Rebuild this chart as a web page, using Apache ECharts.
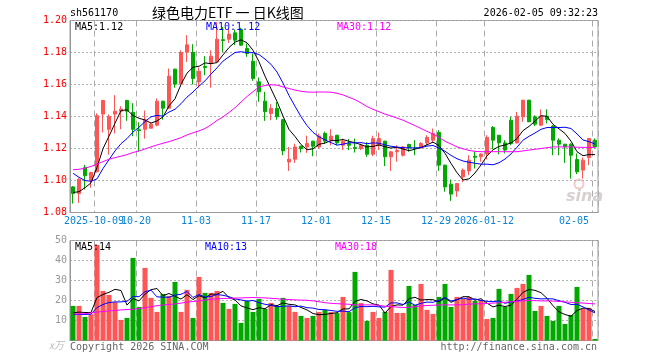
<!DOCTYPE html>
<html><head><meta charset="utf-8">
<script src="https://cdn.jsdelivr.net/npm/echarts@6/dist/echarts.min.js"></script>
<style>html,body{margin:0;padding:0;background:#fff}#c{width:660px;height:360px}</style>
</head><body><div id="c"></div>
<script>
const dates = ['2025-09-25','2025-09-26','2025-09-29','2025-09-30','2025-10-09','2025-10-10','2025-10-13','2025-10-14','2025-10-15','2025-10-16','2025-10-17','2025-10-20','2025-10-21','2025-10-22','2025-10-23','2025-10-24','2025-10-27','2025-10-28','2025-10-29','2025-10-30','2025-10-31','2025-11-03','2025-11-04','2025-11-05','2025-11-06','2025-11-07','2025-11-10','2025-11-11','2025-11-12','2025-11-13','2025-11-14','2025-11-17','2025-11-18','2025-11-19','2025-11-20','2025-11-21','2025-11-24','2025-11-25','2025-11-26','2025-11-27','2025-11-28','2025-12-01','2025-12-02','2025-12-03','2025-12-04','2025-12-05','2025-12-08','2025-12-09','2025-12-10','2025-12-11','2025-12-12','2025-12-15','2025-12-16','2025-12-17','2025-12-18','2025-12-19','2025-12-22','2025-12-23','2025-12-24','2025-12-25','2025-12-26','2025-12-29','2025-12-30','2025-12-31','2026-01-05','2026-01-06','2026-01-07','2026-01-08','2026-01-09','2026-01-12','2026-01-13','2026-01-14','2026-01-15','2026-01-16','2026-01-19','2026-01-20','2026-01-21','2026-01-22','2026-01-23','2026-01-26','2026-01-27','2026-01-28','2026-01-29','2026-01-30','2026-02-02','2026-02-03','2026-02-04','2026-02-05'];

const labelDates = ['2025-10-09','2025-10-20','2025-11-03','2025-11-17','2025-12-01','2025-12-15','2025-12-29','2026-01-12','2026-02-05'];
const labelTexts = ['2025-10-09','10-20','11-03','11-17','12-01','12-15','12-29','2026-01-12','02-05'];
const priceTicks = [1.08, 1.20, 0.02];
const volTicks = [0, 50, 10];

const opens = [1.096,1.0919,1.108,1.100,1.1055,1.1415,1.132,1.1415,1.1433,1.150,
1.1426,1.1317,1.132,1.1327,1.1346,1.1496,1.1452,1.1696,1.1606,1.1802,
1.180,1.1616,1.1714,1.1731,1.1741,1.188,1.1883,1.1923,1.1944,1.1825,
1.1746,1.1617,1.1496,1.1419,1.145,1.138,1.1116,1.1133,1.1214,1.121,
1.1246,1.121,1.1294,1.1252,1.1283,1.122,1.1231,1.1207,1.12,1.122,
1.1164,1.122,1.1246,1.1148,1.118,1.1158,1.1225,1.1202,1.1204,1.1235,
1.1252,1.13,1.1096,1.0977,1.0935,1.1023,1.106,1.1152,1.1148,1.1165,
1.1331,1.1283,1.1235,1.1377,1.1235,1.1398,1.1502,1.1398,1.1346,1.1402,
1.134,1.1252,1.1227,1.1227,1.1131,1.1065,1.1144,1.1252];
const closes = [1.0919,1.1008,1.103,1.105,1.1405,1.150,1.140,1.1433,1.1446,1.1433,
1.132,1.1312,1.138,1.1352,1.1496,1.1452,1.1652,1.1602,1.180,1.1848,
1.1638,1.1683,1.1706,1.1777,1.1883,1.1875,1.1915,1.1877,1.1846,1.1794,
1.1638,1.1554,1.143,1.145,1.1398,1.1185,1.1133,1.121,1.12,1.1231,
1.1214,1.1277,1.1246,1.1277,1.1235,1.1246,1.122,1.12,1.122,1.1164,
1.1262,1.1262,1.1148,1.1179,1.1188,1.121,1.1205,1.12,1.1231,1.1269,
1.1294,1.1096,1.096,1.0915,1.0981,1.1065,1.1127,1.1145,1.1165,1.1269,
1.1252,1.1235,1.119,1.1231,1.1402,1.1502,1.1367,1.1352,1.1402,1.1381,
1.1252,1.1227,1.121,1.1158,1.1054,1.1127,1.1263,1.121];
const lows = [1.0856,1.086,1.0944,1.0955,1.105,1.130,1.1162,1.1294,1.132,1.1373,
1.1277,1.118,1.1262,1.1325,1.1339,1.138,1.1446,1.158,1.160,1.1741,
1.160,1.158,1.1658,1.158,1.174,1.1804,1.186,1.1846,1.184,1.1773,
1.1623,1.1492,1.1373,1.1377,1.138,1.1158,1.106,1.111,1.1175,1.1173,
1.1152,1.12,1.123,1.122,1.122,1.119,1.119,1.1175,1.119,1.1148,
1.1152,1.119,1.109,1.106,1.1117,1.115,1.118,1.1158,1.12,1.1221,
1.1235,1.106,1.093,1.0873,1.0898,1.099,1.1033,1.1075,1.1117,1.1131,
1.1194,1.1163,1.117,1.122,1.1233,1.1367,1.1365,1.134,1.134,1.1356,
1.1158,1.1158,1.111,1.1012,1.104,1.1012,1.1096,1.12];
const highs = [1.0966,1.1015,1.1098,1.1055,1.142,1.1505,1.1413,1.1533,1.1464,1.1505,
1.1483,1.1364,1.1437,1.1365,1.1513,1.1498,1.170,1.1698,1.1814,1.1908,
1.1852,1.1706,1.1777,1.1814,1.199,1.196,1.195,1.1944,1.1955,1.1856,
1.1794,1.1644,1.1554,1.1477,1.149,1.1385,1.121,1.123,1.1218,1.128,
1.1248,1.1294,1.1305,1.132,1.1285,1.1262,1.126,1.1262,1.123,1.124,
1.128,1.130,1.1248,1.1185,1.122,1.1215,1.123,1.1252,1.124,1.1283,
1.1325,1.1315,1.1098,1.1006,1.0985,1.1075,1.1158,1.118,1.117,1.1283,
1.134,1.1285,1.1252,1.1398,1.1429,1.1504,1.1504,1.1408,1.1444,1.1444,
1.1346,1.1263,1.1228,1.1233,1.1169,1.1144,1.1265,1.1263];

const ma5 = [1.0925,1.093,1.0955,1.0985,1.1082,1.1199,1.1277,1.1358,1.1437,1.1442,
1.1406,1.1389,1.1378,1.1359,1.1372,1.1398,1.1466,1.1511,1.16,1.1671,
1.1708,1.1714,1.1735,1.173,1.1737,1.1785,1.1831,1.1865,1.1879,1.1861,
1.1814,1.1742,1.1652,1.1573,1.1494,1.1403,1.1319,1.1275,1.1225,1.1192,
1.1198,1.1226,1.1234,1.1249,1.125,1.1256,1.1245,1.1236,1.1224,1.121,
1.1213,1.1222,1.1211,1.1203,1.1208,1.1197,1.1186,1.1196,1.1207,1.1223,
1.124,1.1218,1.117,1.1107,1.1049,1.1003,1.101,1.1047,1.1097,1.1154,
1.1192,1.1213,1.1222,1.1235,1.1262,1.1312,1.1338,1.1371,1.1405,1.1401,
1.1351,1.1323,1.1294,1.1246,1.118,1.1155,1.1162,1.1162];
const ma10 = [1.1045,1.102,1.1,1.0995,1.101,1.1075,1.113,1.1185,1.123,1.1262,
1.1303,1.1333,1.1368,1.1398,1.1407,1.1402,1.1428,1.1445,1.148,1.1521,
1.1553,1.159,1.1623,1.1665,1.1704,1.1746,1.1773,1.18,1.1805,1.1799,
1.1799,1.1787,1.1759,1.1726,1.1678,1.1609,1.1531,1.1464,1.1399,1.1343,
1.1301,1.1273,1.1254,1.1237,1.1221,1.1227,1.1236,1.1235,1.1237,1.123,
1.1235,1.1233,1.1223,1.1214,1.1209,1.1205,1.1204,1.1204,1.1205,1.1215,
1.1219,1.1202,1.1183,1.1157,1.1136,1.1122,1.1114,1.1108,1.1102,1.1102,
1.1098,1.1111,1.1134,1.1166,1.1208,1.1252,1.1276,1.1297,1.132,1.1331,
1.1331,1.1331,1.1333,1.1325,1.1291,1.1253,1.1243,1.1228];
const ma30 = [1.1067,1.107,1.1077,1.1088,1.1103,1.1118,1.1133,1.1143,1.1152,1.1162,
1.1175,1.1185,1.1197,1.121,1.1222,1.1233,1.1243,1.1255,1.1268,1.1285,
1.1298,1.131,1.1325,1.1348,1.1375,1.1398,1.1425,1.1455,1.149,1.1525,
1.1555,1.1585,1.1594,1.1598,1.1596,1.1585,1.1575,1.1565,1.1558,1.1553,
1.1552,1.1553,1.1553,1.1552,1.1545,1.1535,1.152,1.1505,1.1485,1.1462,
1.1445,1.143,1.1415,1.1403,1.139,1.1377,1.136,1.1343,1.1325,1.1307,
1.129,1.127,1.1245,1.1228,1.121,1.1198,1.1188,1.1182,1.118,1.118,
1.118,1.118,1.118,1.118,1.118,1.1185,1.119,1.1195,1.12,1.1205,
1.121,1.121,1.121,1.121,1.1208,1.1207,1.1207,1.1207];

const volumes = [17.3,17.3,11.8,13.2,47.8,24.8,22.8,19.2,10.3,11.3,
41.3,16.8,36.3,21.3,14.3,23.3,22.3,29.3,14.3,25.3,
11.3,31.8,23.8,23.8,24.8,18.8,15.8,18.3,8.8,19.8,
14.3,20.8,15.8,18.8,17.3,21.3,17.3,14.3,12.3,11.3,
12.3,14.3,15.2,14.2,13.7,21.8,14.2,34.3,18.7,9.8,
14.3,11.3,14.3,35.3,13.8,13.8,27.3,17.8,28.3,15.3,
13.3,21.8,28.3,16.8,21.8,20.8,21.8,19.8,20.3,10.8,
11.3,25.8,16.8,23.3,26.3,28.3,32.8,14.8,17.3,12.3,
9.8,17.3,8.3,12.8,26.8,15.8,16.3,0.8];
const vma5 = [13.8,14.2,14,14,21.5,23,24.1,25.6,25,17.7,
21,19.8,23.2,25.4,26,22.4,23.5,22.1,20.7,22.9,
20.5,22.4,21.3,23.2,23.1,24.6,21.4,20.3,17.3,16.3,
15.4,16.4,15.9,17.9,17.4,18.8,18.1,17.8,16.5,15.3,
13.5,12.9,13.1,13.5,13.9,15.8,15.8,19.6,20.5,19.8,
18.3,17.7,13.7,17,17.8,17.7,20.9,21.6,20.2,20.5,
20.4,19.3,21.4,19.1,20.4,21.9,21.9,20.2,20.9,18.7,
16.8,17.6,17,17.6,20.7,24.1,25.5,25.1,23.9,21.1,
17.4,14.3,13,12.1,15,16.2,16,14.5];
const vma10 = [13,13,13,13.2,16.5,18,19,19.3,19.3,19.6,
22,21.9,24.4,25.2,21.8,21.7,21.6,22.7,23.1,24.5,
21.5,23,21.7,22,23,22.6,21.9,20.8,20.3,19.7,
20,18.9,18.1,17.6,16.9,17.1,17.3,16.9,17.2,16.4,
16.2,15.5,15.4,15,14.6,14.7,14.4,16.4,17,16.9,
17.1,16.8,16.7,18.8,18.8,18,19.3,17.6,18.6,19.2,
19.1,20.1,21.5,19.7,20.5,21.2,20.6,20.8,20,19.6,
19.4,19.8,18.6,19.3,19.7,20.5,21.6,21.1,20.8,20.9,
20.8,19.9,19.1,18,18.1,16.8,15.2,13.8];
const vma30 = [13.2,13.3,13.4,13.8,14.2,14.5,14.8,15,15.3,15.5,
15.6,16,16.4,16.9,17.4,17.8,18,18.3,18.7,19.2,
19.5,19.8,20.2,20.6,20.8,21,21.1,21.2,21.3,21.4,
21.5,21.4,21.3,21.1,20.9,20.6,20.5,20.3,20.2,20.1,
19.8,19.4,18.9,18.6,18.4,18.3,18.1,17.8,17.8,17.8,
17.8,17.6,17.1,16.9,16.7,16.5,16.6,16.9,17.3,17.5,
17.6,17.8,17.8,17.8,17.8,17.9,18.2,18.3,18.4,18.5,
18.7,18.9,19.1,19.4,19.6,19.8,20,19.9,19.8,19.8,
19.7,19.5,19.3,19.1,18.9,18.7,18.5,18.3];

const UP = '#ff5555', DOWN = '#00a800';
const MONO = '"DejaVu Sans Mono", monospace';
const CJK = '"Noto Sans CJK SC", sans-serif';

const kData = opens.map((o, i) => [o, closes[i], lows[i], highs[i]]);
const volData = volumes.map((v, i) => ({ value: v, itemStyle: { color: closes[i] >= opens[i] ? UP : DOWN } }));

// labels alternate between two label rows (same line) so that touching labels are not dropped
const rowA = labelDates.filter((d, k) => k % 2 === 0);
const rowB = labelDates.filter((d, k) => k % 2 === 1);
const showIdx = (idx, val) => labelDates.indexOf(val) >= 0;
const showA = (idx, val) => rowA.indexOf(val) >= 0;
const showB = (idx, val) => rowB.indexOf(val) >= 0;
const fmt = v => labelTexts[labelDates.indexOf(v)];
const dashStyle = { color: '#aaa', width: 1, type: [6, 4] };
const dotStyle = { color: '#b0b0b0', width: 1, type: [2, 2] };
const labelBase = { formatter: fmt, color: '#0b84d6', fontFamily: MONO, fontSize: 10, margin: 4,
  padding: [0, 6, 0, 0], hideOverlap: false, showMinLabel: true, showMaxLabel: true };

const chart = echarts.init(document.getElementById('c'), null, { renderer: 'canvas' });
function lineSeries(data, color, xi, yi) {
  return { type: 'line', data: data, xAxisIndex: xi, yAxisIndex: yi, symbol: 'none', smooth: false,
    lineStyle: { color: color, width: 1 }, silent: true, z: 5 };
}
chart.setOption({
  animation: false,
  backgroundColor: '#fff',
  grid: [
    { left: 70, top: 20.5, width: 528, height: 192, show: true, borderColor: '#999', borderWidth: 1, backgroundColor: 'transparent' },
    { left: 70, top: 240.5, width: 528, height: 100, show: true, borderColor: '#999', borderWidth: 1, backgroundColor: 'transparent' }
  ],
  xAxis: [
    { type: 'category', gridIndex: 0, data: dates, boundaryGap: true,
      axisLine: { lineStyle: { color: '#999' } }, axisTick: { show: false },
      axisLabel: Object.assign({ interval: showA, alignMaxLabel: 'right' }, labelBase),
      splitLine: { show: true, interval: showIdx, lineStyle: dashStyle } },
    { type: 'category', gridIndex: 1, data: dates, boundaryGap: true,
      axisLine: { lineStyle: { color: '#999' } }, axisTick: { show: false }, axisLabel: { show: false },
      splitLine: { show: true, interval: showIdx, lineStyle: dashStyle } },
    { type: 'category', gridIndex: 0, data: dates, boundaryGap: true, position: 'bottom',
      axisLine: { show: false }, axisTick: { show: false }, splitLine: { show: false },
      axisLabel: Object.assign({ interval: showB }, labelBase) }
  ],
  yAxis: [
    { type: 'value', gridIndex: 0, min: priceTicks[0], max: priceTicks[1], interval: priceTicks[2],
      axisLine: { show: true, lineStyle: { color: '#999' } }, axisTick: { show: false },
      axisLabel: { color: '#ff0000', fontFamily: MONO, fontSize: 10, margin: 3, formatter: v => v.toFixed(2) },
      splitLine: { show: true, lineStyle: dotStyle } },
    { type: 'value', gridIndex: 1, min: volTicks[0], max: volTicks[1], interval: volTicks[2],
      axisLine: { show: true, lineStyle: { color: '#999' } }, axisTick: { show: false },
      axisLabel: { color: '#999', fontFamily: MONO, fontSize: 10, margin: 3, formatter: v => v === 0 ? '' : String(v) },
      splitLine: { show: true, lineStyle: dotStyle } }
  ],
  series: [
    { type: 'candlestick', xAxisIndex: 0, yAxisIndex: 0, data: kData, barWidth: 4,
      itemStyle: { color: UP, color0: DOWN, borderColor: UP, borderColor0: DOWN, borderWidth: 1 }, silent: true },
    lineSeries(ma5, '#000000', 0, 0),
    lineSeries(ma10, '#0000ff', 0, 0),
    lineSeries(ma30, '#ff00ff', 0, 0),
    { type: 'bar', xAxisIndex: 1, yAxisIndex: 1, data: volData, barWidth: 5, silent: true },
    lineSeries(vma5, '#000000', 1, 1),
    lineSeries(vma10, '#0000ff', 1, 1),
    lineSeries(vma30, '#ff00ff', 1, 1)
  ],
  graphic: [
    { type: 'text', x: 70, y: 13, style: { text: 'sh561170', fill: '#000', font: '10px ' + MONO, verticalAlign: 'middle' } },
    { type: 'text', x: 152, y: 13, style: { text: '绿色电力ETF 一 日K线图', fill: '#000', font: '14px ' + CJK, verticalAlign: 'middle' } },
    { type: 'text', x: 598, y: 13, style: { text: '2026-02-05 09:32:23', fill: '#000', font: '10px ' + MONO, align: 'right', verticalAlign: 'middle' } },
    { type: 'text', x: 75, y: 27, z: 10, style: { text: 'MA5:1.12', fill: '#000', font: '10px ' + MONO, verticalAlign: 'middle' } },
    { type: 'text', x: 206, y: 27, z: 10, style: { text: 'MA10:1.12', fill: '#0000ff', font: '10px ' + MONO, verticalAlign: 'middle' } },
    { type: 'text', x: 337, y: 27, z: 10, style: { text: 'MA30:1.12', fill: '#ff00ff', font: '10px ' + MONO, verticalAlign: 'middle' } },
    { type: 'text', x: 75, y: 247, z: 10, style: { text: 'MA5:14', fill: '#000', font: '10px ' + MONO, verticalAlign: 'middle' } },
    { type: 'text', x: 205, y: 247, z: 10, style: { text: 'MA10:13', fill: '#0000ff', font: '10px ' + MONO, verticalAlign: 'middle' } },
    { type: 'text', x: 335, y: 247, z: 10, style: { text: 'MA30:18', fill: '#ff00ff', font: '10px ' + MONO, verticalAlign: 'middle' } },
    { type: 'text', x: 64, y: 345, style: { text: 'x万', fill: '#bbb', font: 'italic 10px ' + CJK, align: 'right', verticalAlign: 'middle' } },
    { type: 'text', x: 70, y: 347, style: { text: 'Copyright 2026 SINA.COM', fill: '#666', font: '10px ' + MONO, verticalAlign: 'middle' } },
    { type: 'text', x: 597, y: 347, style: { text: 'http://finance.sina.com.cn', fill: '#666', font: '10px ' + MONO, align: 'right', verticalAlign: 'middle' } },
    { type: 'circle', shape: { cx: 579, cy: 184, r: 4.5 }, style: { fill: 'none', stroke: '#f2caca', lineWidth: 2 } },
    { type: 'text', x: 566, y: 197, style: { text: 'sina', fill: '#d8d0d0', font: 'italic bold 16px "DejaVu Sans", sans-serif', verticalAlign: 'middle' } }
  ]
});
</script>
</body></html>
